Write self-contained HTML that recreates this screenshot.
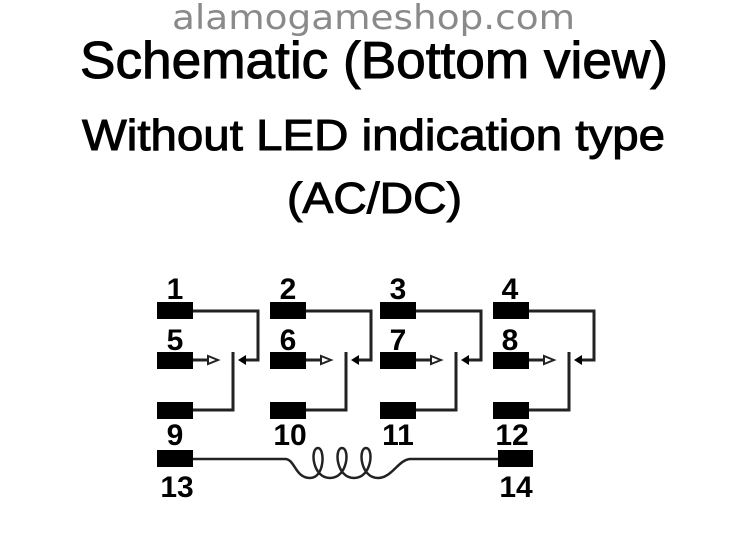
<!DOCTYPE html>
<html><head><meta charset="utf-8"><style>
html,body{margin:0;padding:0;background:#fff;}
svg{display:block;}
</style></head><body>
<svg width="746" height="560" viewBox="0 0 746 560" xmlns="http://www.w3.org/2000/svg">
<text x="172" y="29" font-family="DejaVu Sans, sans-serif" font-size="34" fill="#8a8a8a" textLength="403" lengthAdjust="spacingAndGlyphs">alamogameshop.com</text>
<g font-family="Liberation Sans, sans-serif" fill="#000" stroke="#000" stroke-width="1">
<text x="80" y="78" font-size="52" textLength="588" lengthAdjust="spacingAndGlyphs">Schematic (Bottom view)</text>
<text x="82" y="150" font-size="44" textLength="583" lengthAdjust="spacingAndGlyphs">Without LED indication type</text>
<text x="287" y="213" font-size="44" textLength="175" lengthAdjust="spacingAndGlyphs">(AC/DC)</text>
</g>
<g fill="#000" stroke="#222" stroke-width="3">
<g transform="translate(0,0)">
<rect x="157" y="302" width="36" height="17" stroke="none"/>
<rect x="157" y="352" width="36" height="17" stroke="none"/>
<rect x="157" y="402" width="36" height="17" stroke="none"/>
<polyline points="193,311 258,311 258,360 245,360" fill="none"/>
<polygon points="238,360 246,355 246,365" stroke="none"/>
<polyline points="233,352 233,410 193,410" fill="none"/>
<line x1="193" y1="360" x2="210" y2="360" fill="none"/>
<polygon points="218,360 208,356 208,364" fill="#fff" stroke-width="2"/>
</g>
<g transform="translate(113,0)">
<rect x="157" y="302" width="36" height="17" stroke="none"/>
<rect x="157" y="352" width="36" height="17" stroke="none"/>
<rect x="157" y="402" width="36" height="17" stroke="none"/>
<polyline points="193,311 258,311 258,360 245,360" fill="none"/>
<polygon points="238,360 246,355 246,365" stroke="none"/>
<polyline points="233,352 233,410 193,410" fill="none"/>
<line x1="193" y1="360" x2="210" y2="360" fill="none"/>
<polygon points="218,360 208,356 208,364" fill="#fff" stroke-width="2"/>
</g>
<g transform="translate(223,0)">
<rect x="157" y="302" width="36" height="17" stroke="none"/>
<rect x="157" y="352" width="36" height="17" stroke="none"/>
<rect x="157" y="402" width="36" height="17" stroke="none"/>
<polyline points="193,311 258,311 258,360 245,360" fill="none"/>
<polygon points="238,360 246,355 246,365" stroke="none"/>
<polyline points="233,352 233,410 193,410" fill="none"/>
<line x1="193" y1="360" x2="210" y2="360" fill="none"/>
<polygon points="218,360 208,356 208,364" fill="#fff" stroke-width="2"/>
</g>
<g transform="translate(336,0)">
<rect x="157" y="302" width="36" height="17" stroke="none"/>
<rect x="157" y="352" width="36" height="17" stroke="none"/>
<rect x="157" y="402" width="36" height="17" stroke="none"/>
<polyline points="193,311 258,311 258,360 245,360" fill="none"/>
<polygon points="238,360 246,355 246,365" stroke="none"/>
<polyline points="233,352 233,410 193,410" fill="none"/>
<line x1="193" y1="360" x2="210" y2="360" fill="none"/>
<polygon points="218,360 208,356 208,364" fill="#fff" stroke-width="2"/>
</g>
<rect x="157" y="450" width="36" height="17" stroke="none"/>
<rect x="498" y="450" width="35" height="17" stroke="none"/>
<path d="M193,459 L285,459 C295,459 295,478 310,478 C325,478 325,448 318,448 C310,448 312,478 330,478 C348,478 350,448 342,448 C334,448 336,478 354,478 C372,478 374,448 366,448 C358,448 360,478 378,478 C392,478 398,460 410,459 L498,459" fill="none" stroke-width="2.5"/>
</g>
<g font-family="Liberation Sans, sans-serif" font-size="30" font-weight="bold" fill="#000">
<text x="175" y="299" text-anchor="middle">1</text>
<text x="288" y="299" text-anchor="middle">2</text>
<text x="398" y="299" text-anchor="middle">3</text>
<text x="510" y="299" text-anchor="middle">4</text>
<text x="175" y="350" text-anchor="middle">5</text>
<text x="288" y="350" text-anchor="middle">6</text>
<text x="398" y="350" text-anchor="middle">7</text>
<text x="510" y="350" text-anchor="middle">8</text>
<text x="175" y="445" text-anchor="middle">9</text>
<text x="290" y="445" text-anchor="middle">10</text>
<text x="398" y="445" text-anchor="middle">11</text>
<text x="512" y="445" text-anchor="middle">12</text>
<text x="177" y="497" text-anchor="middle">13</text>
<text x="516" y="497" text-anchor="middle">14</text>
</g>
</svg>
</body></html>
